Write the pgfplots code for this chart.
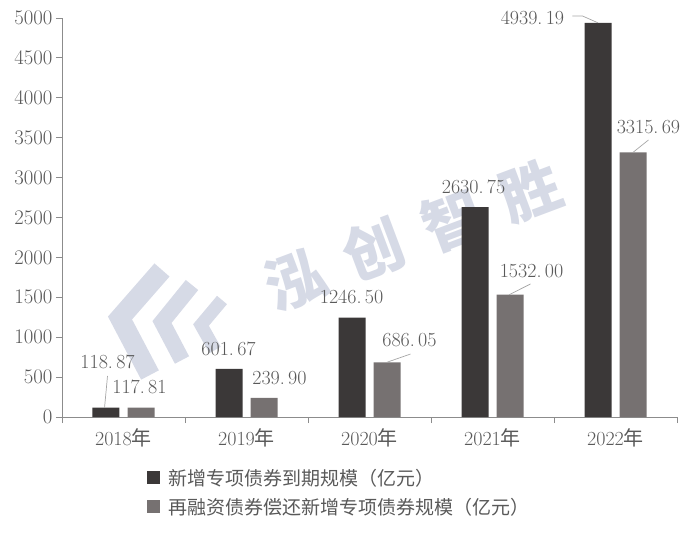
\documentclass[border=0pt]{standalone}
\usepackage{fontspec}
\usepackage{pgfplots}
\pgfplotsset{compat=1.18}
\newfontfamily\cjk{Noto Sans CJK SC}
\definecolor{darkbar}{HTML}{3B3838}
\definecolor{graybar}{HTML}{767171}
\definecolor{txt}{HTML}{595959}
\definecolor{axc}{HTML}{8C8C8C}
\definecolor{wm}{HTML}{D6DAE6}
\definecolor{lead}{HTML}{A6A6A6}
\newcommand{\fs}{\fontsize{20}{24}\selectfont}
\newcommand{\PX}[2]{([shift={(#1pt,#2pt)}]axis cs:-0.5,0)}
\begin{document}
\begin{tikzpicture}
\begin{axis}[name=ax, scale only axis, width=615pt, height=399pt,
  xmin=-0.5, xmax=4.5, ymin=0, ymax=5000,
  clip=false,
  axis x line*=bottom, axis y line*=left,
  axis line style={axc, line width=0.8pt},
  tick style={axc, line width=0.8pt},
  tick align=outside,
  major tick length=6pt,
  ytick={0,500,...,5000},
  /pgf/number format/1000 sep={},
  yticklabel style={font=\fs, text=txt},
  xtick={-0.5,0.5,...,4.5}, xticklabels={},
  extra x ticks={0,1,2,3,4},
  extra x tick labels={2018{\cjk 年},2019{\cjk 年},2020{\cjk 年},2021{\cjk 年},2022{\cjk 年}},
  extra x tick style={major tick length=0pt, xticklabel style={font=\fs, text=txt, yshift=-8pt}},
  legend style={at={(axis description cs:0.138,-0.125)}, anchor=north west, draw=none, fill=none,
    font=\fontsize{19}{23}\selectfont\cjk, text=txt, row sep=7pt, inner sep=0pt},
  legend cell align=left,
  legend image code/.code={\fill[#1] (0pt,-6.5pt) rectangle (13pt,6.5pt);},
]
% watermark
\node[wm, rotate=20.6, font=\fontsize{60}{60}\selectfont\cjk\bfseries] at \PX{351}{182}
  {泓\hspace{24pt}创\hspace{24pt}智\hspace{24pt}胜};
\draw[wm, line width=20pt, line join=miter] \PX{100}{147} -- \PX{58}{99} -- \PX{88}{42};
\draw[wm, line width=16pt, line join=miter] \PX{130}{132} -- \PX{100}{95} -- \PX{120}{57};
\draw[wm, line width=13pt, line join=miter] \PX{160}{117} -- \PX{139}{92} -- \PX{153}{67};

\addplot[ybar, bar width=27pt, bar shift=-17.5pt, fill=darkbar, draw=none]
  coordinates {(0,118.87) (1,601.67) (2,1246.50) (3,2630.75) (4,4939.19)};
\addlegendentry{\hspace{6pt}新增专项债券到期规模（亿元）}
\addplot[ybar, bar width=27pt, bar shift=17.5pt, fill=graybar, draw=none]
  coordinates {(0,117.81) (1,239.90) (2,686.05) (3,1532.00) (4,3315.69)};
\addlegendentry{\hspace{6pt}再融资债券偿还新增专项债券规模（亿元）}

% leader lines
\draw[lead, line width=0.7pt] (axis cs:-0.154,118.87) -- (axis cs:-0.13,514);
\draw[lead, line width=0.7pt] (axis cs:2.142,686.05) -- (axis cs:2.333,789);
\draw[lead, line width=0.7pt] (axis cs:3.135,1532) -- (axis cs:3.309,1667);
\draw[lead, line width=0.7pt] (axis cs:3.858,4939.19) -- (axis cs:3.732,5025) -- (axis cs:3.650,5025);
\draw[lead, line width=0.7pt] (axis cs:4.142,3315.69) -- (axis cs:4.268,3471);

% labels
\begin{scope}[every node/.style={font=\fs, text=txt, inner sep=0pt}]
\node at (axis cs:-0.130,689) {118.\,87};
\node at (axis cs:0.130,376) {117.\,81};
\node at (axis cs:0.854,852) {601.\,67};
\node at (axis cs:1.268,489) {239.\,90};
\node at (axis cs:1.854,1504) {1246.\,50};
\node at (axis cs:2.325,965) {686.\,05};
\node at (axis cs:2.846,2882) {2630.\,75};
\node at (axis cs:3.317,1830) {1532.\,00};
\node at (axis cs:3.325,5000) {4939.\,19};
\node at (axis cs:4.268,3634) {3315.\,69};
\end{scope}
\end{axis}
\pgfresetboundingbox
\path ([shift={(-62pt,-115pt)}]ax.south west) rectangle ([shift={(15pt,18pt)}]ax.north east);
\end{tikzpicture}
\end{document}
